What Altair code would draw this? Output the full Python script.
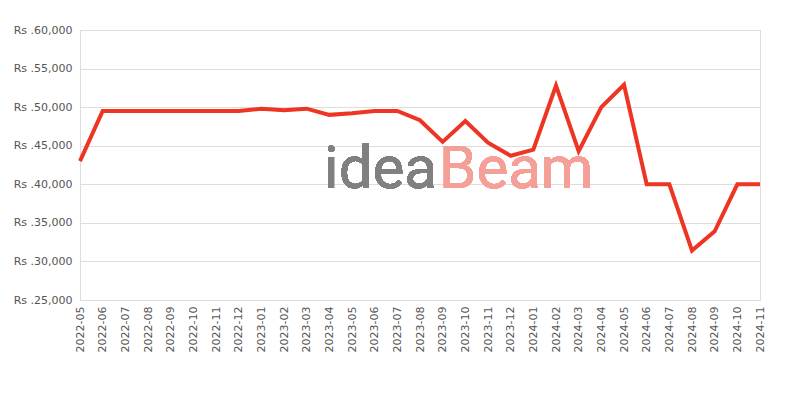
import altair as alt
import pandas as pd

months = ["2022-05", "2022-06", "2022-07", "2022-08", "2022-09", "2022-10", "2022-11",
          "2022-12", "2023-01", "2023-02", "2023-03", "2023-04", "2023-05", "2023-06",
          "2023-07", "2023-08", "2023-09", "2023-10", "2023-11", "2023-12", "2024-01",
          "2024-02", "2024-03", "2024-04", "2024-05", "2024-06", "2024-07", "2024-08",
          "2024-09", "2024-10", "2024-11"]
prices = [43000, 49500, 49500, 49500, 49500, 49500, 49500,
          49500, 49800, 49600, 49800, 49000, 49200, 49500,
          49500, 48300, 45500, 48200, 45400, 43700, 44500,
          52800, 44300, 50000, 52900, 40000, 40000, 31400,
          33900, 40000, 40000]
y_ticks = [25000, 30000, 35000, 40000, 45000, 50000, 55000, 60000]

df = pd.DataFrame({"month": months, "price": prices})

FONT = "DejaVu Sans"

line = alt.Chart(df).mark_line(color="#ee3524", strokeWidth=4, strokeJoin="miter").encode(
    x=alt.X("month:O", sort=months,
            scale=alt.Scale(type="point", padding=0),
            axis=alt.Axis(title=None, labelAngle=270, labelFontSize=11, labelColor="#555",
                          labelFont=FONT, ticks=False, domain=False, grid=False,
                          labelPadding=6)),
    y=alt.Y("price:Q", scale=alt.Scale(domain=[25000, 60000], nice=False, zero=False),
            axis=alt.Axis(title=None, values=y_ticks,
                          labelExpr="'Rs .' + format(datum.value, ',')",
                          labelFontSize=11, labelColor="#555", labelFont=FONT,
                          ticks=False, domain=False, gridColor="#dddddd", labelPadding=8)),
)

wm_idea = alt.Chart(df).mark_text(text="idea", fontSize=60, font="Roboto", color="#808080",
                                   align="right", baseline="alphabetic", opacity=0.95).encode(
    x=alt.value(357), y=alt.value(158))
wm_beam = alt.Chart(df).mark_text(text="Beam", fontSize=60, font="Roboto", color="#f4a099",
                                   align="left", baseline="alphabetic", opacity=0.95).encode(
    x=alt.value(359), y=alt.value(158))

chart = alt.layer(wm_idea, wm_beam, line).properties(
    width=680, height=270,
    autosize=alt.AutoSizeParams(type="none"),
    padding={"left": 72, "top": 22, "right": 32, "bottom": 80},
).configure_view(stroke="#dddddd").configure(background="white")

chart.save("out.html", embed_options={"renderer": "svg", "actions": False})
